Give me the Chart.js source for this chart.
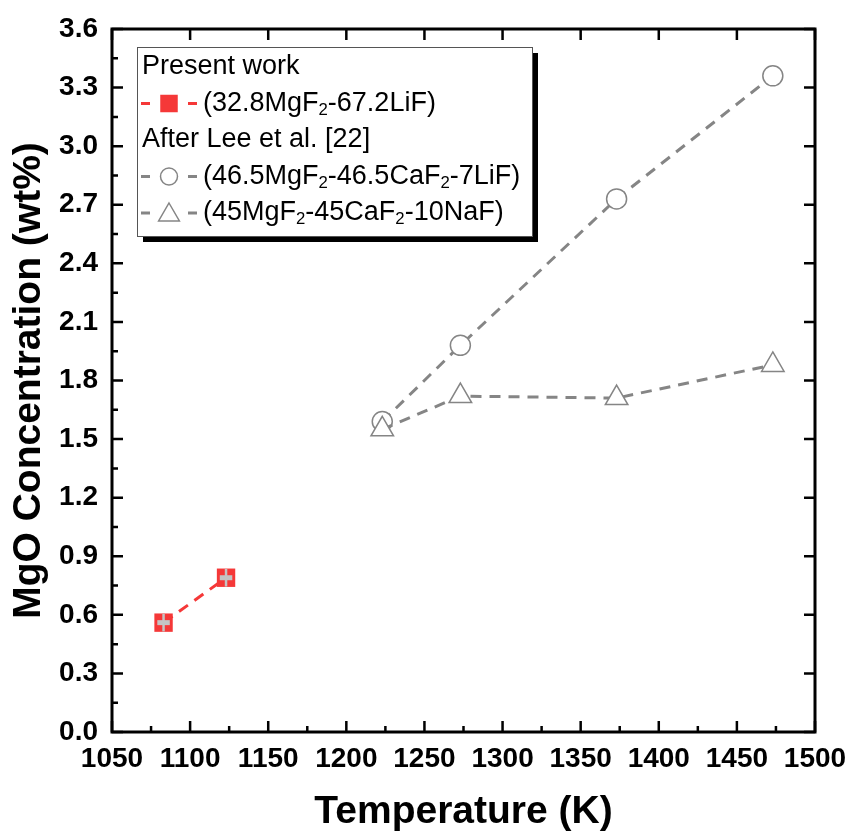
<!DOCTYPE html>
<html>
<head>
<meta charset="utf-8">
<script src="https://cdn.jsdelivr.net/npm/chart.js@4.4.0/dist/chart.umd.min.js"></script>
<style>
  html, body { margin: 0; background: #fff; }
</style>
</head>
<body>
<canvas id="chart" width="850" height="834"></canvas>
<script>
// data
const presentTemp = [1083, 1123];
const presentMgO = [0.56, 0.79];
const presentYErr = [0.045, 0.045];
const presentXErr = [4, 4];

const leeTemp = [1223, 1273, 1373, 1473];
const leeLiF = [1.59, 1.98, 2.73, 3.36];
const leeNaF = [1.55, 1.72, 1.71, 1.88];

const legendLabels = ['(32.8MgF_2-67.2LiF)', '(46.5MgF_2-46.5CaF_2-7LiF)', '(45MgF_2-45CaF_2-10NaF)'];
const legendHeaders = ['Present work', 'After Lee et al. [22]'];

const FONT = "'Liberation Sans', Arial, sans-serif";
const RED = '#f53838';
const GREY = '#858585';

const pts = (xs, ys) => xs.map((x, i) => ({ x: x, y: ys[i] }));

// draws a legend sample marker
function marker(ctx, style, x, y, r) {
  ctx.beginPath();
  if (style === 'rect') {
    ctx.rect(x - r, y - r, 2 * r, 2 * r);
  } else if (style === 'circle') {
    ctx.arc(x, y, r, 0, Math.PI * 2);
  } else {
    ctx.moveTo(x, y - r);
    ctx.lineTo(x + r * 0.866, y + r * 0.5);
    ctx.lineTo(x - r * 0.866, y + r * 0.5);
    ctx.closePath();
  }
  ctx.fill();
  ctx.stroke();
}

function richText(ctx, str, x, y, size) {
  const parts = str.split(/_(\d)/);
  parts.forEach((p, i) => {
    if (i % 2) {
      ctx.font = (size * 0.62) + 'px ' + FONT;
      ctx.fillText(p, x, y + size * 0.25);
    } else {
      ctx.font = size + 'px ' + FONT;
      ctx.fillText(p, x, y);
    }
    x += ctx.measureText(p).width;
  });
}

// error bars for the present work points
const errorBars = {
  id: 'errorBars',
  afterDatasetsDraw(chart) {
    const ctx = chart.ctx;
    const xs = chart.scales.x, ys = chart.scales.y;
    ctx.save();
    ctx.strokeStyle = '#c4c4c4';
    presentTemp.forEach((t, i) => {
      const px = xs.getPixelForValue(t);
      const py = ys.getPixelForValue(presentMgO[i]);
      ctx.lineWidth = 2.5;
      ctx.beginPath();
      ctx.moveTo(px, ys.getPixelForValue(presentMgO[i] - presentYErr[i]));
      ctx.lineTo(px, ys.getPixelForValue(presentMgO[i] + presentYErr[i]));
      ctx.stroke();
      ctx.lineWidth = 5;
      ctx.beginPath();
      ctx.moveTo(xs.getPixelForValue(t - presentXErr[i]), py);
      ctx.lineTo(xs.getPixelForValue(t + presentXErr[i]), py);
      ctx.stroke();
    });
    ctx.restore();
  }
};

// box frame with inward ticks, then the legend
const frame = {
  id: 'frame',
  afterDraw(chart) {
    const ctx = chart.ctx;
    const { left, right, top, bottom } = chart.chartArea;
    const xs = chart.scales.x, ys = chart.scales.y;
    ctx.save();
    ctx.strokeStyle = '#000';
    ctx.lineWidth = 2.5;
    ctx.beginPath();
    for (let v = 1050; v <= 1500.001; v += 25) {
      const px = xs.getPixelForValue(v);
      const major = Math.round(v) % 50 === 0;
      ctx.moveTo(px, bottom);
      ctx.lineTo(px, bottom - (major ? 11 : 6));
      if (major) {
        ctx.moveTo(px, top);
        ctx.lineTo(px, top + 11);
      }
    }
    for (let k = 0; k <= 24; k++) {
      const py = ys.getPixelForValue(k * 0.15);
      const major = k % 2 === 0;
      ctx.moveTo(left, py);
      ctx.lineTo(left + (major ? 11 : 6), py);
      if (major) {
        ctx.moveTo(right, py);
        ctx.lineTo(right - 11, py);
      }
    }
    ctx.stroke();
    ctx.lineWidth = 3;
    ctx.strokeRect(left, top, right - left, bottom - top);

    // legend
    const bx = left + 25, by = top + 18, bw = 395, bh = 189;
    ctx.fillStyle = '#000';
    ctx.fillRect(bx + 6, by + 6, bw, bh);
    ctx.fillStyle = '#fff';
    ctx.fillRect(bx, by, bw, bh);
    ctx.lineWidth = 1;
    ctx.strokeStyle = '#555';
    ctx.strokeRect(bx + 0.5, by + 0.5, bw, bh);

    ctx.textBaseline = 'middle';
    ctx.fillStyle = '#000';
    const rowH = 36.5;
    const fs = 27;
    const rows = [
      { head: legendHeaders[0] },
      { label: legendLabels[0], color: RED, style: 'rect', fill: RED, r: 8 },
      { head: legendHeaders[1] },
      { label: legendLabels[1], color: GREY, style: 'circle', fill: '#fff', r: 8.5 },
      { label: legendLabels[2], color: GREY, style: 'triangle', fill: '#fff', r: 12 }
    ];
    rows.forEach((row, i) => {
      const y = by + 20 + i * rowH;
      if (row.head) {
        ctx.fillStyle = '#000';
        ctx.font = fs + 'px ' + FONT;
        ctx.fillText(row.head, bx + 5, y);
        return;
      }
      const sx = bx + 4, cx = sx + 28;
      ctx.strokeStyle = row.color;
      ctx.lineWidth = 3;
      ctx.beginPath();
      ctx.moveTo(sx, y); ctx.lineTo(sx + 9, y);
      ctx.moveTo(cx + 19, y); ctx.lineTo(cx + 28, y);
      ctx.stroke();
      ctx.fillStyle = row.fill;
      ctx.lineWidth = 1.5;
      marker(ctx, row.style, cx, row.style === 'triangle' ? y + 2 : y, row.r);
      ctx.fillStyle = '#000';
      richText(ctx, row.label, bx + 66, y, fs);
    });
    ctx.restore();
  }
};

new Chart(document.getElementById('chart'), {
  type: 'line',
  data: {
    datasets: [
      {
        label: legendLabels[0],
        data: pts(presentTemp, presentMgO),
        borderColor: RED,
        backgroundColor: RED,
        borderWidth: 3,
        borderDash: [11, 8],
        pointStyle: 'rect',
        pointRadius: 13,
        pointBorderWidth: 0,
        order: 0
      },
      {
        label: legendLabels[2],
        data: pts(leeTemp, leeNaF),
        borderColor: GREY,
        backgroundColor: '#fff',
        borderWidth: 3,
        borderDash: [11, 8],
        pointStyle: 'triangle',
        pointRadius: 13,
        pointBorderWidth: 1.5,
        order: 1
      },
      {
        label: legendLabels[1],
        data: pts(leeTemp, leeLiF),
        borderColor: GREY,
        backgroundColor: '#fff',
        borderWidth: 3,
        borderDash: [11, 8],
        pointStyle: 'circle',
        pointRadius: 10,
        pointBorderWidth: 1.5,
        order: 2
      }
    ]
  },
  options: {
    responsive: false,
    animation: false,
    layout: { padding: { top: 29, right: 35, left: 0, bottom: 0 } },
    plugins: {
      legend: { display: false },
      tooltip: { enabled: false }
    },
    scales: {
      x: {
        type: 'linear',
        min: 1050,
        max: 1500,
        grid: { display: false, drawTicks: false },
        border: { display: false },
        ticks: {
          stepSize: 50,
          padding: 10,
          color: '#000',
          font: { family: FONT, size: 28, weight: 'bold' },
          callback: (v) => String(v)
        },
        title: {
          display: true,
          text: 'Temperature (K)',
          color: '#000',
          padding: { top: 0, bottom: -2 },
          font: { family: FONT, size: 39, weight: 'bold' }
        },
        afterFit: (scale) => {
          scale.height = 102;
          scale.paddingLeft = 0;
          scale.paddingRight = 0;
        }
      },
      y: {
        min: 0,
        max: 3.6,
        grid: { display: false, drawTicks: false },
        border: { display: false },
        ticks: {
          stepSize: 0.3,
          padding: 14,
          color: '#000',
          font: { family: FONT, size: 28, weight: 'bold' },
          callback: (v) => v.toFixed(1)
        },
        title: {
          display: true,
          text: 'MgO Concentration (wt%)',
          color: '#000',
          padding: { top: 6, bottom: 0 },
          font: { family: FONT, size: 39, weight: 'bold' }
        },
        afterFit: (scale) => {
          scale.width = 112;
          scale.paddingTop = 0;
          scale.paddingBottom = 0;
        }
      }
    }
  },
  plugins: [errorBars, frame]
});
</script>
</body>
</html>
